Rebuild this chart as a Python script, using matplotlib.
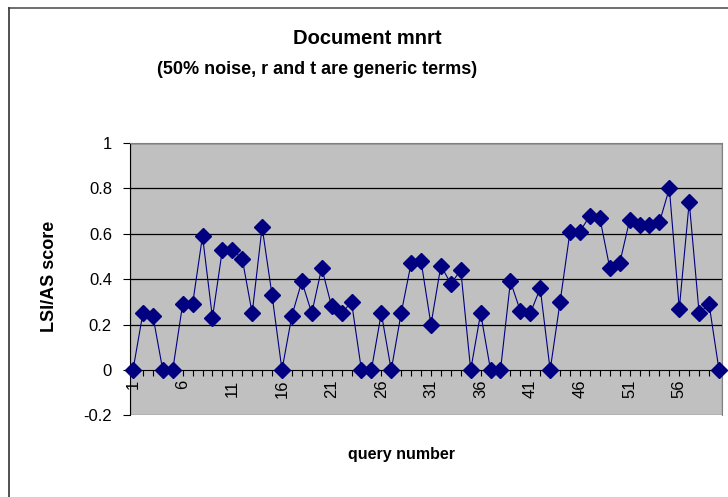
import matplotlib.pyplot as plt
import numpy as np
from matplotlib.lines import Line2D
from matplotlib.patches import Rectangle
from matplotlib.ticker import FixedLocator, MultipleLocator

queries = np.arange(1, 61)
scores = [
    0.00, 0.25, 0.24, 0.00, 0.00, 0.29, 0.29, 0.59, 0.23, 0.53,
    0.53, 0.49, 0.25, 0.63, 0.33, 0.00, 0.24, 0.39, 0.25, 0.45,
    0.28, 0.25, 0.30, 0.00, 0.00, 0.25, 0.00, 0.25, 0.47, 0.48,
    0.20, 0.46, 0.38, 0.44, 0.00, 0.25, 0.00, 0.00, 0.39, 0.26,
    0.25, 0.36, 0.00, 0.30, 0.61, 0.61, 0.68, 0.67, 0.45, 0.47,
    0.66, 0.64, 0.64, 0.65, 0.80, 0.27, 0.74, 0.25, 0.29, 0.00,
]
xtick_values = [1, 6, 11, 16, 21, 26, 31, 36, 41, 46, 51, 56]
ytick_values = [-0.2, 0, 0.2, 0.4, 0.6, 0.8, 1.0]

plt.rcParams['font.family'] = ['Liberation Sans', 'DejaVu Sans']

W, H = 728, 497
fig = plt.figure(figsize=(W / 100, H / 100), dpi=100)

# chart frame: only the top and left edges fall inside the picture
fig.lines.append(Line2D([8.5 / W, 1], [1 - 7.5 / H, 1 - 7.5 / H],
                        transform=fig.transFigure, color='#555555', lw=1.2))
fig.lines.append(Line2D([8.5 / W, 8.5 / W], [0, 1 - 7.5 / H],
                        transform=fig.transFigure, color='#333333', lw=1.2))

ax = fig.add_axes([130 / W, 1 - 415.4 / H, 592 / W, 272.4 / H])
ax.set_facecolor('#C0C0C0')

for y in [0.2, 0.4, 0.6, 0.8, 1.0]:
    ax.axhline(y, color='black', linewidth=0.9, zorder=1)

ax.plot(queries, scores, color='#000080', linewidth=0.8, marker='D',
        markersize=8, markerfacecolor='#000080', markeredgecolor='#000080',
        zorder=3, clip_on=False)

ax.set_xlim(0.7, 60.3)
ax.set_ylim(-0.2, 1.0)

for side in ['top', 'right']:
    ax.spines[side].set_color('#808080')
ax.spines['left'].set_color('black')
ax.spines['bottom'].set_position(('data', 0))
ax.spines['bottom'].set_color('black')
ax.add_patch(Rectangle((0, 0), 1, 1, transform=ax.transAxes, fill=False,
                       edgecolor='#808080', linewidth=1.0, zorder=0.5))

ax.xaxis.set_major_locator(FixedLocator(xtick_values))
ax.xaxis.set_minor_locator(MultipleLocator(1))
ax.set_xticklabels([str(v) for v in xtick_values], rotation=90, fontsize=12)
ax.tick_params(axis='x', which='both', direction='out', length=4, width=0.8,
               pad=3)

ax.set_yticks(ytick_values)
ax.set_yticklabels(['-0.2', '0', '0.2', '0.4', '0.6', '0.8', '1'], fontsize=12)
ax.tick_params(axis='y', direction='out', length=5, width=0.8, pad=8)

fig.text(367 / W, 1 - 38 / H, 'Document mnrt', ha='center', va='center',
         fontsize=14.5, fontweight='bold')
fig.text(317 / W, 1 - 70 / H, '(50% noise, r and t are generic terms)',
         ha='center', va='center', fontsize=13, fontweight='bold')
fig.text(401 / W, 1 - 455 / H, 'query number', ha='center', va='center',
         fontsize=11.5, fontweight='bold')
fig.text(49 / W, 1 - 276 / H, 'LSI/AS score', ha='center', va='center',
         rotation=90, fontsize=13, fontweight='bold')

fig.savefig('out.png', dpi=100)
